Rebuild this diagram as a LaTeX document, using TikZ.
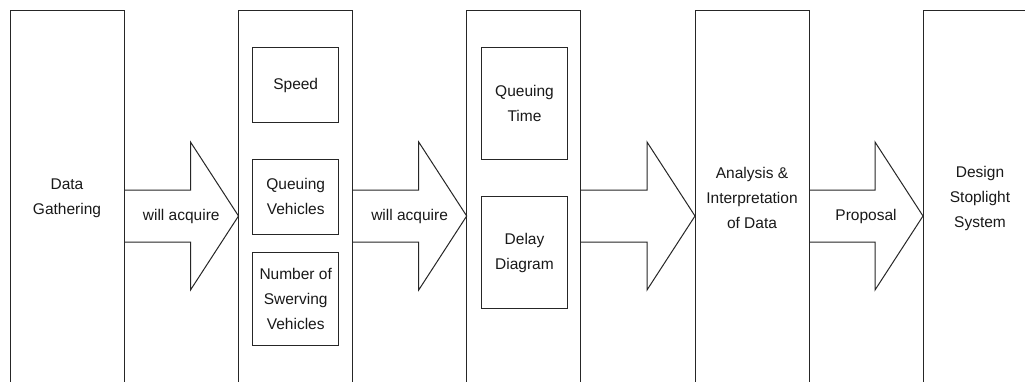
\documentclass[tikz,border=0pt]{standalone}
\usepackage{fontspec}
\setmainfont{Liberation Sans}
\usetikzlibrary{calc}
\tikzset{
  bigbox/.style={draw=black!85, line width=1pt, minimum width=114pt, minimum height=430pt, inner sep=0pt, outer sep=0pt, anchor=north west},
  smallbox/.style={draw=black!85, line width=1pt, inner sep=0pt, outer sep=0pt, anchor=north west},
  lbl/.style={align=center, inner sep=0pt, text=black!90, font=\fontsize{15.5}{25}\selectfont},
  barrow/.style={draw=black!85, line width=1pt, line join=miter},
}
\newcommand\myarrow[4]{%
  \draw[barrow] ($(#1.east|-mid)+(0,-26)$) -- ($(#2.west|-mid)+(-48,-26)$) -- ($(#2.west|-mid)+(-48,-74)$) -- (#2.west|-mid) -- ($(#2.west|-mid)+(-48,74)$) -- ($(#2.west|-mid)+(-48,26)$) -- ($(#1.east|-mid)+(0,26)$);
  \node[lbl] (#3) at ($(#1.east|-mid)!0.5!(#2.west|-mid)$) {#4};
}
\begin{document}
\begin{tikzpicture}[x=1pt,y=-1pt]
\useasboundingbox (0,0) rectangle (1025,381);
\fill[white] (0,0) rectangle (1025,381);
\clip (0,0) rectangle (1025,381);
\coordinate (mid) at (0,216);
% big boxes
\node[bigbox] (b1) at (10,10) {};
\node[bigbox] (b2) at (238.5,10) {};
\node[bigbox] (b3) at (466.7,10) {};
\node[bigbox] (b4) at (695,10) {};
\node[bigbox] (b5) at (923,10) {};
% texts in big boxes
\node[lbl] (t1) at (67,198) {Data\\Gathering};
\node[lbl] (t4) at (752,198) {Analysis \&\\Interpretation\\of Data};
\node[lbl] (t5) at (980,198) {Design\\Stoplight\\System};
% inner boxes
\node[smallbox, minimum width=86pt, minimum height=74.6pt] (speed) at (252.7,47.7) {};
\node[lbl] at (speed.center) {Speed};
\node[smallbox, minimum width=86pt, minimum height=74.7pt] (qv) at (252.7,159.3) {};
\node[lbl] at (qv.center) {Queuing\\Vehicles};
\node[smallbox, minimum width=86pt, minimum height=93.4pt] (nsv) at (252.7,252.3) {};
\node[lbl] at (nsv.center) {Number of\\Swerving\\Vehicles};
\node[smallbox, minimum width=85.6pt, minimum height=111.6pt] (qt) at (481.7,47.7) {};
\node[lbl] at (qt.center) {Queuing\\Time};
\node[smallbox, minimum width=85.6pt, minimum height=111.6pt] (dd) at (481.7,196.7) {};
\node[lbl] at (dd.center) {Delay\\Diagram};
% block arrows
\myarrow{b1}{b2}{a1}{will acquire}
\myarrow{b2}{b3}{a2}{will acquire}
\myarrow{b3}{b4}{a3}{}
\myarrow{b4}{b5}{a4}{Proposal}
\end{tikzpicture}
\end{document}
